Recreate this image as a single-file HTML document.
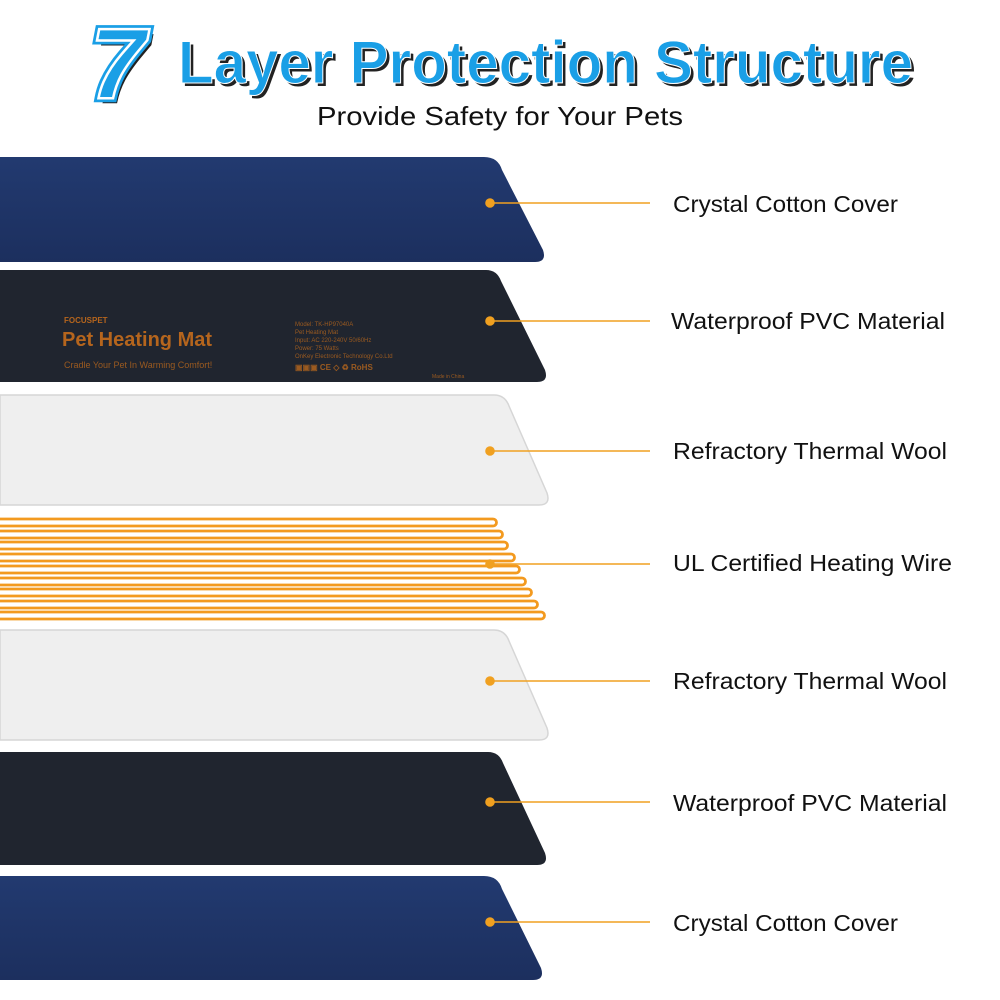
<!DOCTYPE html>
<html><head><meta charset="utf-8"><style>
body{margin:0;background:#fff;width:1000px;height:1000px;overflow:hidden}
svg{display:block}
</style></head><body>
<svg width="1000" height="1000" viewBox="0 0 1000 1000" xmlns="http://www.w3.org/2000/svg">
<defs>
<linearGradient id="blue" x1="0" y1="0" x2="0" y2="1"><stop offset="0" stop-color="#223a70"/><stop offset="1" stop-color="#1c2f5e"/></linearGradient>
</defs>
<!-- title -->
<text x="90" y="98" font-family="Liberation Sans" font-weight="bold" font-style="italic" font-size="100" fill="#222" transform="translate(4,5)">7</text>
<text x="90" y="98" font-family="Liberation Sans" font-weight="bold" font-style="italic" font-size="100" fill="#1a9fe6" stroke="#1a9fe6" stroke-width="8">7</text>
<text x="90" y="98" font-family="Liberation Sans" font-weight="bold" font-style="italic" font-size="100" fill="#1a9fe6" stroke="#fff" stroke-width="2.5">7</text>
<text x="181" y="86" font-family="Liberation Sans" font-weight="bold" font-size="60" fill="#222" textLength="735" lengthAdjust="spacingAndGlyphs">Layer Protection Structure</text>
<text x="178" y="83" font-family="Liberation Sans" font-weight="bold" font-size="60" fill="#1a9fe6" stroke="#fff" stroke-width="1" textLength="735" lengthAdjust="spacingAndGlyphs">Layer Protection Structure</text>
<text x="317" y="125" font-family="Liberation Sans" font-size="26" fill="#111" textLength="366" lengthAdjust="spacingAndGlyphs">Provide Safety for Your Pets</text>

<!-- layers -->
<path d="M0,157 H484 Q498,157 502,170 L543,250 Q547,262 535,262 H0 Z" fill="url(#blue)"/>
<path d="M0,270 H486 Q497,270 501,281 L545,370 Q549,382 537,382 H0 Z" fill="#20252f"/>
<text x="62" y="346" font-family="Liberation Sans" font-size="20" font-weight="bold" fill="#b5651d">Pet Heating Mat</text>
<text x="64" y="323" font-family="Liberation Sans" font-size="8" font-weight="bold" fill="#b5651d">FOCUSPET</text>
<text x="64" y="368" font-family="Liberation Sans" font-size="9" fill="#9a5a20">Cradle Your Pet In Warming Comfort!</text>
<text x="295" y="326" font-family="Liberation Sans" font-size="6" fill="#9a5a20">Model: TK-HP97040A</text>
<text x="295" y="334" font-family="Liberation Sans" font-size="6" fill="#9a5a20">Pet Heating Mat</text>
<text x="295" y="342" font-family="Liberation Sans" font-size="6" fill="#9a5a20">Input: AC 220-240V 50/60Hz</text>
<text x="295" y="350" font-family="Liberation Sans" font-size="6" fill="#9a5a20">Power: 75 Watts</text>
<text x="295" y="358" font-family="Liberation Sans" font-size="6" fill="#9a5a20">OnKey Electronic Technology Co.Ltd</text>
<text x="295" y="370" font-family="Liberation Sans" font-size="8" font-weight="bold" fill="#9a5a20">▣▣▣ CE ◇ ♻ RoHS</text>
<text x="432" y="378" font-family="Liberation Sans" font-size="5" fill="#9a5a20">Made in China</text>
<path d="M0,395 H494 Q505,395 509,406 L547,493 Q551,505 539,505 H0 Z" fill="#efefef" stroke="#d6d6d6" stroke-width="1.5"/>
<g fill="none" stroke="#f39a1f" stroke-width="2.8">
<path d="M0,519 H493 A3.5,3.5 0 0 1 493,526 H0"/>
<path d="M0,531 H499 A3.5,3.5 0 0 1 499,538 H0"/>
<path d="M0,542 H504 A3.5,3.5 0 0 1 504,549 H0"/>
<path d="M0,554 H511 A3.5,3.5 0 0 1 511,561 H0"/>
<path d="M0,566 H516 A3.5,3.5 0 0 1 516,573 H0"/>
<path d="M0,578 H522 A3.5,3.5 0 0 1 522,585 H0"/>
<path d="M0,589 H528 A3.5,3.5 0 0 1 528,596 H0"/>
<path d="M0,601 H534 A3.5,3.5 0 0 1 534,608 H0"/>
<path d="M0,612 H541 A3.5,3.5 0 0 1 541,619 H0"/>
</g>
<path d="M0,630 H494 Q505,630 509,641 L547,728 Q551,740 539,740 H0 Z" fill="#efefef" stroke="#d6d6d6" stroke-width="1.5"/>
<path d="M0,752 H488 Q499,752 503,763 L545,853 Q549,865 537,865 H0 Z" fill="#20252f"/>
<path d="M0,876 H484 Q498,876 502,889 L541,968 Q545,980 533,980 H0 Z" fill="url(#blue)"/>

<!-- leaders -->
<g stroke="#f0a020" stroke-width="1.6" fill="#f0a020">
<line x1="490" y1="203" x2="650" y2="203"/><circle cx="490" cy="203" r="4"/>
<line x1="490" y1="321" x2="650" y2="321"/><circle cx="490" cy="321" r="4"/>
<line x1="490" y1="451" x2="650" y2="451"/><circle cx="490" cy="451" r="4"/>
<line x1="490" y1="564" x2="650" y2="564"/><circle cx="490" cy="564" r="4"/>
<line x1="490" y1="681" x2="650" y2="681"/><circle cx="490" cy="681" r="4"/>
<line x1="490" y1="802" x2="650" y2="802"/><circle cx="490" cy="802" r="4"/>
<line x1="490" y1="922" x2="650" y2="922"/><circle cx="490" cy="922" r="4"/>
</g>
<g font-family="Liberation Sans" font-size="23" fill="#111" lengthAdjust="spacingAndGlyphs">
<text x="673" y="212" textLength="225" lengthAdjust="spacingAndGlyphs">Crystal Cotton Cover</text>
<text x="671" y="329" textLength="274" lengthAdjust="spacingAndGlyphs">Waterproof PVC Material</text>
<text x="673" y="459" textLength="274" lengthAdjust="spacingAndGlyphs">Refractory Thermal Wool</text>
<text x="673" y="571" textLength="279" lengthAdjust="spacingAndGlyphs">UL Certified Heating Wire</text>
<text x="673" y="689" textLength="274" lengthAdjust="spacingAndGlyphs">Refractory Thermal Wool</text>
<text x="673" y="811" textLength="274" lengthAdjust="spacingAndGlyphs">Waterproof PVC Material</text>
<text x="673" y="931" textLength="225" lengthAdjust="spacingAndGlyphs">Crystal Cotton Cover</text>
</g>
</svg>
</body></html>
